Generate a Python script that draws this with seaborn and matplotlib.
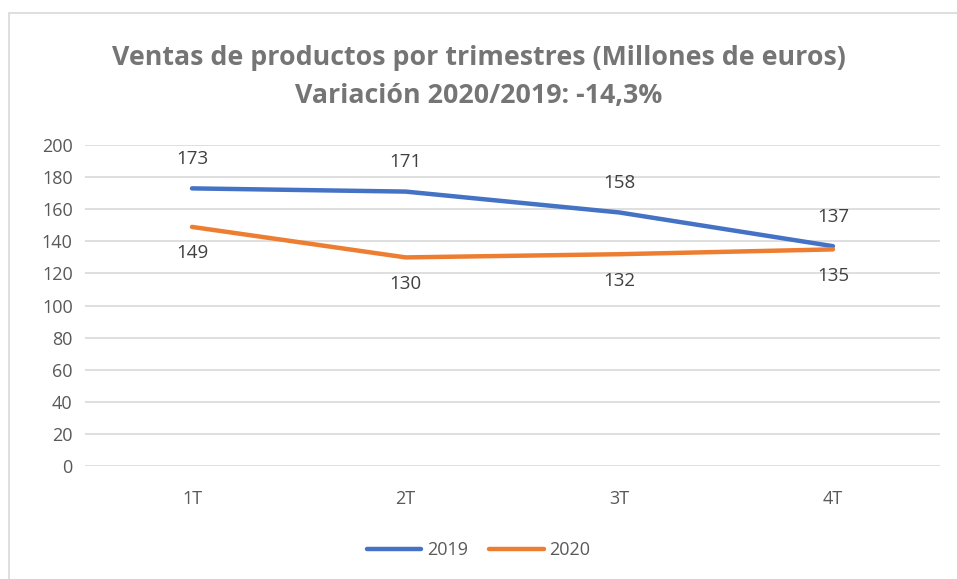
import pandas as pd
import matplotlib.pyplot as plt
import matplotlib.patches as mpatches
import seaborn as sns

quarters = ["1T", "2T", "3T", "4T"]
sales_2019 = [173, 171, 158, 137]
sales_2020 = [149, 130, 132, 135]
series_names = ["2019", "2020"]
colors = ["#4472C4", "#ED7D31"]

df = pd.DataFrame({
    "trimestre": quarters * 2,
    "ventas": sales_2019 + sales_2020,
    "serie": [series_names[0]] * 4 + [series_names[1]] * 4,
})

sns.set_theme(style="white")
plt.rcParams["font.family"] = ["Open Sans", "DejaVu Sans"]

fig = plt.figure(figsize=(9.57, 5.79), dpi=100)
ax = fig.add_axes([0.089, 0.195, 0.893, 0.5545])

sns.lineplot(data=df, x="trimestre", y="ventas", hue="serie", sort=False,
             palette=dict(zip(series_names, colors)), linewidth=3.2,
             solid_capstyle="round", legend=False, ax=ax)

ax.set_xlim(-0.5, 3.5)
ax.set_ylim(0, 200)
ax.set_yticks(range(0, 201, 20))
ax.yaxis.grid(True, color="#d9d9d9", linewidth=1.2)
ax.xaxis.grid(False)
ax.set_axisbelow(True)
for s in ax.spines.values():
    s.set_visible(False)
ax.tick_params(axis="both", length=0, labelsize=13, labelcolor="#595959")
ax.tick_params(axis="x", pad=17)
ax.tick_params(axis="y", pad=9)
ax.set_xlabel("")
ax.set_ylabel("")

# data labels
for i, (a, b) in enumerate(zip(sales_2019, sales_2020)):
    ax.annotate(str(a), (i, a), xytext=(0, 21), textcoords="offset points",
                ha="center", va="center", fontsize=13.5, color="#404040")
    ax.annotate(str(b), (i, b), xytext=(0, -19), textcoords="offset points",
                ha="center", va="center", fontsize=13.5, color="#404040")

fig.text(0.5, 0.900, "Ventas de productos por trimestres (Millones de euros)",
         ha="center", va="center", fontsize=19.3, fontweight="bold", color="#757575")
fig.text(0.5, 0.834, "Variación 2020/2019: -14,3%",
         ha="center", va="center", fontsize=19.3, fontweight="bold", color="#757575")

handles = [plt.Line2D([0], [0], color=c, lw=3.2, label=n) for c, n in zip(colors, series_names)]
leg = fig.legend(handles=handles, loc="center", bbox_to_anchor=(0.5, 0.05), ncol=2,
                 frameon=False, fontsize=13, handlelength=3.0, columnspacing=1.2,
                 handletextpad=0.3)
for t in leg.get_texts():
    t.set_color("#595959")

# chart border
fig.patches.append(mpatches.Rectangle((9 / 957, -0.05), 1.2, 1 - 13 / 579 + 0.05,
                                      transform=fig.transFigure, fill=False,
                                      edgecolor="#d9d9d9", linewidth=1.2))

fig.savefig("out.png", dpi=100)
